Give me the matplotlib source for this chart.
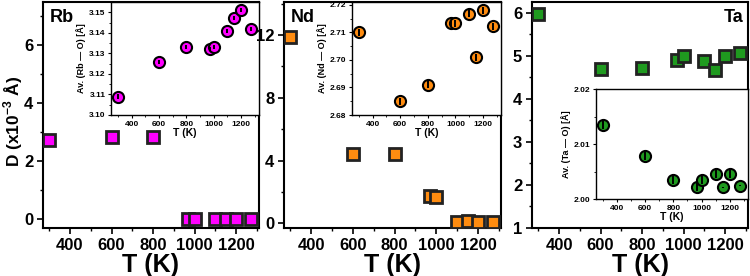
import numpy as np
import matplotlib.pyplot as plt
from matplotlib.ticker import MultipleLocator

plt.rcParams['font.family'] = ['Liberation Sans', 'DejaVu Sans']
plt.rcParams['font.weight'] = 'bold'
plt.rcParams['mathtext.fontset'] = 'custom'
plt.rcParams['mathtext.bf'] = 'Liberation Sans:bold'
plt.rcParams['mathtext.rm'] = 'Liberation Sans:bold'

# temperatures (K)
T = [300, 600, 800, 970, 1000, 1100, 1150, 1200, 1270]

# main panels: D (x10^-3 Å)
d_rb = [2.75, 2.85, 2.85, 0.0, 0.0, 0.0, 0.0, 0.0, 0.0]
d_nd = [11.9, 4.4, 4.4, 1.75, 1.65, 0.1, 0.15, 0.1, 0.1]
d_ta = [5.97, 4.70, 4.72, 4.90, 5.00, 4.88, 4.68, 5.00, 5.07]

# insets: average bond lengths (Å)
av_rb = [3.109, 3.126, 3.133, 3.132, 3.133, 3.141, 3.147, 3.151, 3.142]
av_nd = [2.710, 2.685, 2.691, 2.7133, 2.7133, 2.7167, 2.701, 2.718, 2.7122]
av_ta = [2.0134, 2.0078, 2.0034, 2.0022, 2.0034, 2.0045, 2.0021, 2.0045, 2.0024]
err_rb = [0.001] * 9
err_nd = [0.0013] * 9
err_ta = [0.0007, 0.0007, 0.0007, 0.0007, 0.0007, 0.0007, 0.0001, 0.0007, 0.0001]

C_RB = "#ff00ff"
C_ND = "#ff8c10"
C_TA = "#1f9a1f"

fig = plt.figure(figsize=(7.5, 2.76), dpi=100)
W, H = 750, 276


def px_axes(l, r, t, b):
    return fig.add_axes([l / W, 1 - b / H, (r - l) / W, (b - t) / H])


def style_main(ax):
    for s in ax.spines.values():
        s.set_linewidth(1.5)
    ax.tick_params(which="major", direction="out", length=4, width=1.2,
                   labelsize=12, pad=3)
    ax.tick_params(which="minor", direction="out", length=2.5, width=1.0)
    ax.xaxis.set_major_locator(MultipleLocator(200))
    ax.xaxis.set_minor_locator(MultipleLocator(100))
    ax.set_xlim(270, 1310)
    ax.set_xlabel("T (K)", fontsize=18, fontweight="bold", labelpad=0)


def style_inset(ax):
    for s in ax.spines.values():
        s.set_linewidth(1.0)
    ax.tick_params(which="major", direction="out", length=2.5, width=0.8,
                   labelsize=6, pad=1.5)
    ax.tick_params(which="minor", direction="out", length=1.5, width=0.6)
    ax.xaxis.set_major_locator(MultipleLocator(200))
    ax.xaxis.set_minor_locator(MultipleLocator(100))
    ax.set_xlim(250, 1330)
    ax.set_xlabel("T (K)", fontsize=7.5, fontweight="bold", labelpad=0)


def squares(ax, y, color):
    ax.plot(T, y, "s", ms=9, mfc=color, mec="#222222", mew=2.0, ls="none",
            zorder=3)


def circles(ax, y, err, color):
    ax.plot(T, y, "o", ms=8, mfc=color, mec="black", mew=1.5, ls="none",
            zorder=3)
    ax.errorbar(T, y, yerr=err, fmt="none", ecolor="black", elinewidth=1.4,
                capsize=0, zorder=4)


# ---------- Rb ----------
ax1 = px_axes(43, 259, 2, 228)
squares(ax1, d_rb, C_RB)
style_main(ax1)
ax1.set_ylim(-0.3, 7.5)
ax1.yaxis.set_major_locator(MultipleLocator(2))
ax1.yaxis.set_minor_locator(MultipleLocator(1))
ax1.set_ylabel("D (x10$^{-3}$ Å)", fontsize=12.5, fontweight="bold")
ax1.yaxis.set_label_coords(-0.083, 0.47)
ax1.text(0.03, 0.97, "Rb", transform=ax1.transAxes, fontsize=13,
         fontweight="bold", va="top", ha="left")

in1 = px_axes(111, 259, 2, 115)
circles(in1, av_rb, err_rb, C_RB)
style_inset(in1)
in1.set_ylim(3.10, 3.155)
in1.yaxis.set_major_locator(MultipleLocator(0.01))
in1.yaxis.set_minor_locator(MultipleLocator(0.005))
in1.set_ylabel("Av. (Rb — O) [Å]", fontsize=6.5, fontweight="bold", labelpad=2)

# ---------- Nd ----------
ax2 = px_axes(284, 501, 2, 228)
squares(ax2, d_nd, C_ND)
style_main(ax2)
ax2.set_ylim(-0.3, 14.1)
ax2.yaxis.set_major_locator(MultipleLocator(4))
ax2.yaxis.set_minor_locator(MultipleLocator(2))
ax2.text(0.03, 0.97, "Nd", transform=ax2.transAxes, fontsize=13,
         fontweight="bold", va="top", ha="left")

in2 = px_axes(352, 501, 2, 115)
circles(in2, av_nd, err_nd, C_ND)
style_inset(in2)
in2.set_ylim(2.68, 2.721)
in2.yaxis.set_major_locator(MultipleLocator(0.01))
in2.yaxis.set_minor_locator(MultipleLocator(0.005))
in2.set_ylabel("Av. (Nd — O) [Å]", fontsize=6.5, fontweight="bold", labelpad=2)

# ---------- Ta ----------
ax3 = px_axes(532, 748, 2, 228)
squares(ax3, d_ta, C_TA)
style_main(ax3)
ax3.set_ylim(1.0, 6.25)
ax3.yaxis.set_major_locator(MultipleLocator(1))
ax3.yaxis.set_minor_locator(MultipleLocator(0.5))
ax3.text(0.98, 0.97, "Ta", transform=ax3.transAxes, fontsize=13,
         fontweight="bold", va="top", ha="right")

in3 = px_axes(596, 748, 89, 199)
circles(in3, av_ta, err_ta, C_TA)
style_inset(in3)
in3.set_ylim(2.00, 2.02)
in3.yaxis.set_major_locator(MultipleLocator(0.01))
in3.yaxis.set_minor_locator(MultipleLocator(0.005))
in3.set_ylabel("Av. (Ta — O) [Å]", fontsize=6.5, fontweight="bold", labelpad=2)

fig.savefig("out.png", dpi=100)
